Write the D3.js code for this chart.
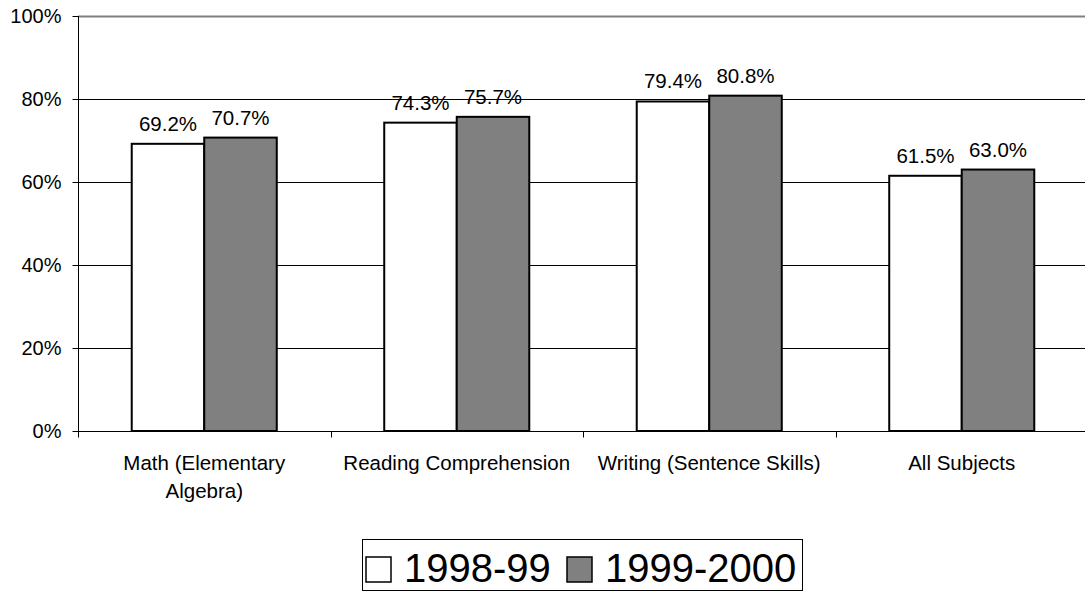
<!DOCTYPE html>
<html>
<head>
<meta charset="utf-8">
<script src="https://cdn.jsdelivr.net/npm/d3@7"></script>
<style>
  html, body { margin: 0; padding: 0; background: #fff; }
  svg { display: block; font-family: "Liberation Sans", Arial, sans-serif; }
</style>
</head>
<body>
<svg id="chart" width="1085" height="592"></svg>
<script>
// ---- data ----
const categories = ["Math (Elementary Algebra)", "Reading Comprehension", "Writing (Sentence Skills)", "All Subjects"];
const seriesNames = ["1998-99", "1999-2000"];
const values1998 = [0.692, 0.743, 0.794, 0.615];
const values1999 = [0.707, 0.757, 0.808, 0.630];
const yTicks = [0, 0.2, 0.4, 0.6, 0.8, 1.0];
const seriesColors = ["#ffffff", "#808080"];

const seriesValues = [values1998, values1999];

(function () {
const svg = d3.select("#chart");
const pL = 78, pR = 1088, pT = 16, pB = 431;

const x = d3.scaleBand().domain(categories).range([pL, pR]).paddingInner(0).paddingOuter(0);
const x1 = d3.scaleBand().domain(seriesNames).range([0, x.bandwidth()]).paddingInner(0).paddingOuter(0.741);
const y = d3.scaleLinear().domain([0, 1]).range([pB, pT]);

// gridlines
svg.append("g").selectAll("line").data(yTicks.filter(t => t > 0)).join("line")
  .attr("x1", pL).attr("x2", 1085)
  .attr("y1", d => Math.round(y(d)) + 0.5).attr("y2", d => Math.round(y(d)) + 0.5)
  .attr("stroke", d => d === 1 ? "#808080" : "#000")
  .attr("stroke-width", d => d === 1 ? 2 : 1);

// y axis
const yAxis = d3.axisLeft(y).tickValues(yTicks).tickFormat(d3.format(".0%")).tickSize(6).tickPadding(11);
const gy = svg.append("g").attr("transform", `translate(${pL + 0.5},0)`).call(yAxis);
gy.select(".domain").attr("stroke", "#000").attr("d", `M0,${y(1)}V${pB + 0.5}`);
gy.selectAll(".tick line").attr("stroke", "#000");
gy.selectAll(".tick text").attr("font-size", 20).attr("fill", "#000")
  .attr("font-family", "'Liberation Sans', Arial, sans-serif");

// bars
const groups = svg.append("g").selectAll("g").data(categories).join("g")
  .attr("transform", d => `translate(${x(d)},0)`);
groups.selectAll("rect").data((c, i) => seriesNames.map((s, j) => ({ s, j, v: seriesValues[j][i] })))
  .join("rect")
  .attr("x", d => x1(d.s))
  .attr("y", d => y(d.v))
  .attr("width", x1.bandwidth())
  .attr("height", d => pB - y(d.v))
  .attr("fill", d => seriesColors[d.j])
  .attr("stroke", "#000")
  .attr("stroke-width", 2);

// value labels
groups.selectAll("text").data((c, i) => seriesNames.map((s, j) => ({ s, j, v: seriesValues[j][i] })))
  .join("text")
  .attr("x", d => x1(d.s) + x1.bandwidth() / 2)
  .attr("y", d => y(d.v) - 13)
  .attr("text-anchor", "middle")
  .attr("font-size", 20.5)
  .attr("fill", "#000")
  .text(d => d3.format(".1%")(d.v));

// x axis
const xAxis = d3.axisBottom(x).tickSize(0).tickFormat("");
const gx = svg.append("g").attr("transform", `translate(0,${pB + 0.5})`).call(xAxis);
gx.select(".domain").attr("stroke", "#000").attr("d", `M${pL},0H1085`);
const boundaries = categories.map(c => x(c)).concat([pR]);
gx.selectAll(".bnd").data(boundaries).join("line").attr("class", "bnd")
  .attr("x1", d => Math.round(d) + 0.5).attr("x2", d => Math.round(d) + 0.5)
  .attr("y1", 0).attr("y2", 6).attr("stroke", "#000");

// category labels with wrapping
const maxW = 235;
const measure = svg.append("text").attr("font-size", 20.5).attr("visibility", "hidden");
function wrap(str) {
  const words = str.split(" ");
  const lines = [];
  let cur = "";
  words.forEach(w => {
    const test = cur ? cur + " " + w : w;
    measure.text(test);
    if (measure.node().getComputedTextLength() > maxW && cur) { lines.push(cur); cur = w; }
    else cur = test;
  });
  lines.push(cur);
  return lines;
}
categories.forEach(c => {
  const lines = wrap(c);
  const t = svg.append("text").attr("text-anchor", "middle").attr("font-size", 20.5).attr("fill", "#000");
  lines.forEach((ln, i) => {
    t.append("tspan").attr("x", x(c) + x.bandwidth() / 2).attr("y", 470 + i * 28).text(ln);
  });
});
measure.remove();

// legend
const lg = svg.append("g");
lg.append("rect").attr("x", 362.5).attr("y", 539.5).attr("width", 440).attr("height", 51)
  .attr("fill", "#fff").attr("stroke", "#000").attr("stroke-width", 1);
const legendX = [366, 567];
seriesNames.forEach((s, j) => {
  lg.append("rect").attr("x", legendX[j]).attr("y", 557).attr("width", 25).attr("height", 25)
    .attr("fill", seriesColors[j]).attr("stroke", "#000").attr("stroke-width", 1.5);
  lg.append("text").attr("x", legendX[j] + 38).attr("y", 581.5).attr("font-size", 40).attr("fill", "#000").text(s);
});
})();
</script>
</body>
</html>
